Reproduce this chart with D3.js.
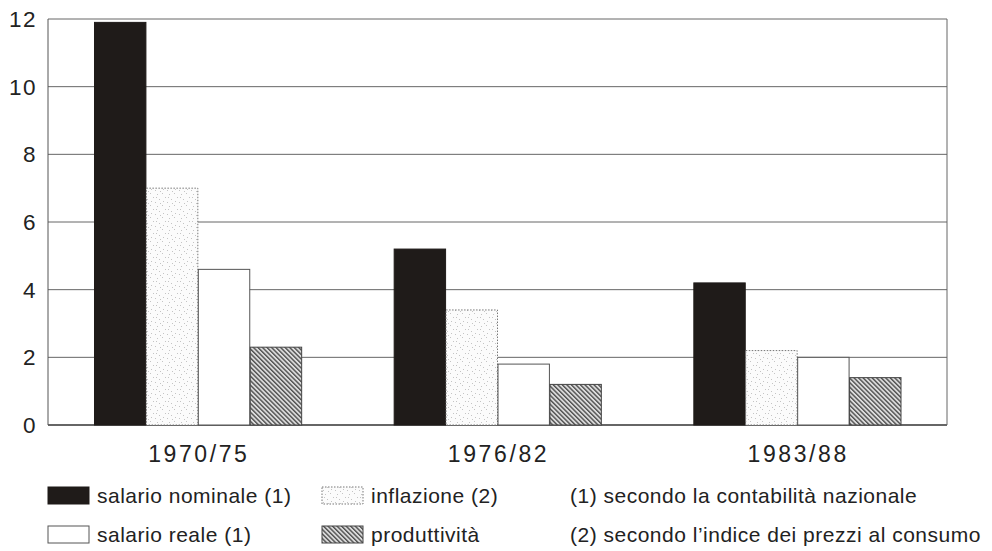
<!DOCTYPE html>
<html><head><meta charset="utf-8">
<script src="https://cdn.jsdelivr.net/npm/d3@7"></script>
<style>
body{margin:0;background:#fff;}
svg{display:block;font-family:"Liberation Sans",Arial,sans-serif;}
</style></head><body>
<svg id="c" width="992" height="551"></svg>
<script>
const categories = ["1970/75","1976/82","1983/88"];
const seriesNames = ["salario nominale (1)","inflazione (2)","salario reale (1)","produttività"];
const salarioNominale = [11.9, 5.2, 4.2];
const inflazione = [7.0, 3.4, 2.2];
const salarioReale = [4.6, 1.8, 2.0];
const produttivita = [2.3, 1.2, 1.4];
const yTicks = [0,2,4,6,8,10,12];
const notes = ["(1) secondo la contabilità nazionale","(2) secondo l\u2019indice dei prezzi al consumo"];

const seriesValues = [salarioNominale, inflazione, salarioReale, produttivita];
const svg = d3.select("#c");
const L=48,R=947,T=19,B=425;

const defs = svg.append("defs");
// stipple pattern
const st = defs.append("pattern").attr("id","stip").attr("patternUnits","userSpaceOnUse").attr("width",12).attr("height",12);
st.append("rect").attr("width",12).attr("height",12).attr("fill","#fbfbfb");
[[1,2],[6,1],[9,5],[3,7],[7,9],[11,10],[4,11],[0,5]].forEach(p=>st.append("rect").attr("x",p[0]).attr("y",p[1]).attr("width",1).attr("height",1).attr("fill","#c4c4c4"));
// hatch pattern
const h = defs.append("pattern").attr("id","hatch").attr("patternUnits","userSpaceOnUse").attr("width",3.2).attr("height",3.2).attr("patternTransform","rotate(-45)");
h.append("rect").attr("width",3.2).attr("height",3.2).attr("fill","#dcdcdc");
h.append("rect").attr("x",0).attr("width",1.4).attr("height",3.2).attr("fill","#505050");

const fills = ["#1f1b19","url(#stip)","#ffffff","url(#hatch)"];
const strokes = ["#1f1b19","#777","#555","#444"];
const dashes = [null,"1.5,1.5",null,null];

const x0 = d3.scaleBand().domain(categories).range([L,R]).paddingInner(0.307).paddingOuter(0.1535);
const x1 = d3.scaleBand().domain(d3.range(4)).range([0,x0.bandwidth()]);
const y = d3.scaleLinear().domain([0,12]).range([B,T]);

// gridlines
svg.append("g").selectAll("line").data(yTicks).join("line")
  .attr("x1",L).attr("x2",R).attr("y1",d=>y(d)).attr("y2",d=>y(d))
  .attr("stroke",d=>d===0?"#333":"#666").attr("stroke-width",d=>d===0?1.3:1);
svg.append("line").attr("x1",R).attr("x2",R).attr("y1",T).attr("y2",B).attr("stroke","#666");
svg.append("line").attr("x1",L).attr("x2",L).attr("y1",T).attr("y2",B).attr("stroke","#555");

// bars
const g = svg.append("g");
categories.forEach((c,ci)=>{
  seriesValues.forEach((vals,si)=>{
    g.append("rect")
      .attr("x",x0(c)+x1(si)+0.5).attr("y",y(vals[ci]))
      .attr("width",x1.bandwidth()-0.5).attr("height",B-y(vals[ci]))
      .attr("fill",fills[si]).attr("stroke",strokes[si]).attr("stroke-width",1)
      .attr("stroke-dasharray",dashes[si]);
  });
});

// y tick labels
svg.append("g").selectAll("text").data(yTicks).join("text")
  .attr("x",37).attr("y",d=>y(d)+8).attr("text-anchor","end")
  .attr("font-size",22.5).attr("letter-spacing",1.5).attr("fill","#222").text(d=>d);

// category labels
svg.append("g").selectAll("text").data(categories).join("text")
  .attr("x",d=>x0(d)+x0.bandwidth()/2+1).attr("y",462).attr("text-anchor","middle")
  .attr("font-size",23).attr("letter-spacing",2.6).attr("fill","#222").text(d=>d);

// legend
const legPos = [[48,487],[322,487],[48,526],[322,526]];
seriesNames.forEach((n,i)=>{
  const [lx,ly]=legPos[i];
  svg.append("rect").attr("x",lx).attr("y",ly).attr("width",41).attr("height",17)
    .attr("fill",fills[i]).attr("stroke",strokes[i]).attr("stroke-dasharray",dashes[i]);
  svg.append("text").attr("x",lx+49).attr("y",ly+16).attr("font-size",21).attr("letter-spacing",0.5).attr("fill","#222").text(n);
});
notes.forEach((t,i)=>{
  svg.append("text").attr("x",570).attr("y",503+i*39).attr("font-size",21).attr("letter-spacing",0.5).attr("fill","#222").text(t);
});
</script>
</body></html>
